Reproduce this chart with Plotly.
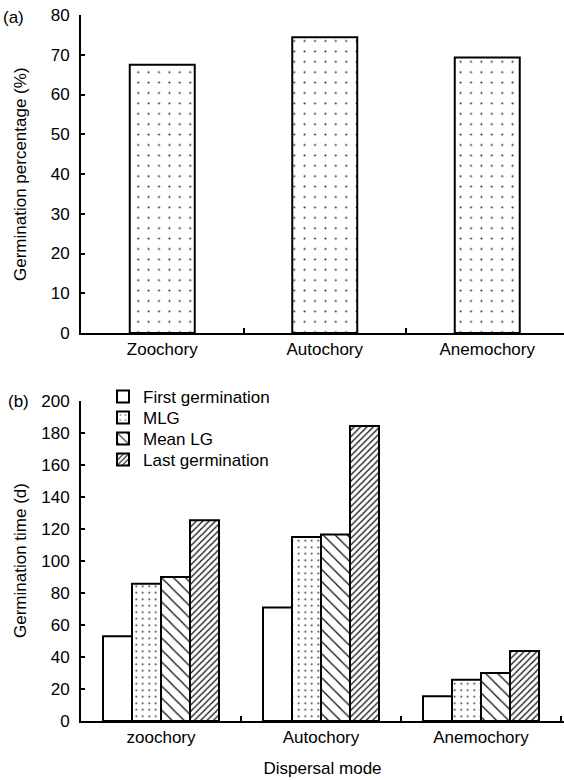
import plotly.graph_objects as go

# ---- data ----
top_categories = ["Zoochory", "Autochory", "Anemochory"]
germination_pct = [67.5, 74.4, 69.3]

bottom_categories = ["zoochory", "Autochory", "Anemochory"]
first_germination = [52.9, 71.0, 15.4]
mlg = [85.8, 115.0, 25.8]
mean_lg = [90.0, 116.5, 30.0]
last_germination = [125.4, 184.4, 43.8]

series_names = ["First germination", "MLG", "Mean LG", "Last germination"]
series_values = [first_germination, mlg, mean_lg, last_germination]

top_yticks = list(range(0, 81, 10))
bottom_yticks = list(range(0, 201, 20))

# ---- styles ----
FONT = "Liberation Sans, Arial, sans-serif"
W, H = 564, 780
L = 81
TXT = dict(family=FONT, size=17, color="black")
PAT = dict(fgcolor="#222", bgcolor="white", fillmode="overlay", fgopacity=1)
patterns = [
    dict(shape=""),
    dict(PAT, shape=".", size=6.5, solidity=0.06),
    dict(PAT, shape="\\", size=8.5, solidity=0.17),
    dict(PAT, shape="/", size=4.5, solidity=0.32),
]
legend_rows_px = [397, 418, 439, 460]

def ydom(px_bottom, px_top):
    return [(H - px_bottom) / H, (H - px_top) / H]

def xpaper(px):
    return (px - L) / (W - L)

fig = go.Figure()

fig.add_trace(go.Bar(
    x=top_categories, y=germination_pct, width=0.4,
    marker=dict(color="white", line=dict(color="black", width=2),
                pattern=dict(PAT, shape=".", size=10.4, solidity=0.03)),
    showlegend=False, xaxis="x", yaxis="y",
))

legend_keys = ["legend", "legend2", "legend3", "legend4"]
for name, vals, pat, lk in zip(series_names, series_values, patterns, legend_keys):
    fig.add_trace(go.Bar(
        x=bottom_categories, y=vals, name=name, legend=lk,
        marker=dict(color="white", line=dict(color="black", width=2), pattern=pat),
        xaxis="x2", yaxis="y2",
    ))

axis_common = dict(
    showline=True, linecolor="black", linewidth=2, showgrid=False, zeroline=False,
    ticks="inside", tickcolor="black", tickwidth=2, tickfont=TXT,
)

legend_layout = {}
for lk, row in zip(legend_keys, legend_rows_px):
    legend_layout[lk] = dict(x=xpaper(103), xanchor="left", y=(H - row) / H, yanchor="middle",
                             bgcolor="rgba(0,0,0,0)", font=TXT, itemwidth=30)

fig.update_layout(
    width=W, height=H,
    margin=dict(l=L, r=0, t=0, b=0, autoexpand=False),
    paper_bgcolor="white", plot_bgcolor="white",
    barmode="group", bargap=0.275, bargroupgap=0,
    font=TXT,
    xaxis=dict(axis_common, type="category", domain=[0, 1], anchor="y",
               range=[-0.5, (W - L) / 162.5 - 0.5], tickson="boundaries", ticklen=5),
    yaxis=dict(axis_common, domain=ydom(333, 15), anchor="x", range=[0, 80],
               tickvals=top_yticks, ticklen=4, ticklabelstandoff=6),
    xaxis2=dict(axis_common, type="category", domain=[0, 1], anchor="y2",
                range=[-0.5, (W - L) / 160 - 0.5], tickson="boundaries", ticklen=5,
                title=dict(text="Dispersal mode", standoff=16, font=TXT)),
    yaxis2=dict(axis_common, domain=ydom(721, 401), anchor="x2", range=[0, 200],
                tickvals=bottom_yticks, ticklen=4, ticklabelstandoff=6),
    annotations=[
        dict(text="(a)", xref="paper", yref="paper", x=xpaper(13), y=(H - 17) / H,
             xanchor="center", yanchor="middle", showarrow=False, font=TXT),
        dict(text="(b)", xref="paper", yref="paper", x=xpaper(18), y=(H - 402) / H,
             xanchor="center", yanchor="middle", showarrow=False, font=TXT),
        dict(text="Germination percentage (%)", xref="paper", yref="paper",
             x=xpaper(20), y=(H - 174) / H, textangle=-90,
             xanchor="center", yanchor="middle", showarrow=False, font=TXT),
        dict(text="Germination time (d)", xref="paper", yref="paper",
             x=xpaper(20), y=(H - 561) / H, textangle=-90,
             xanchor="center", yanchor="middle", showarrow=False, font=TXT),
    ],
    **legend_layout,
)

fig.write_html("out.html")
